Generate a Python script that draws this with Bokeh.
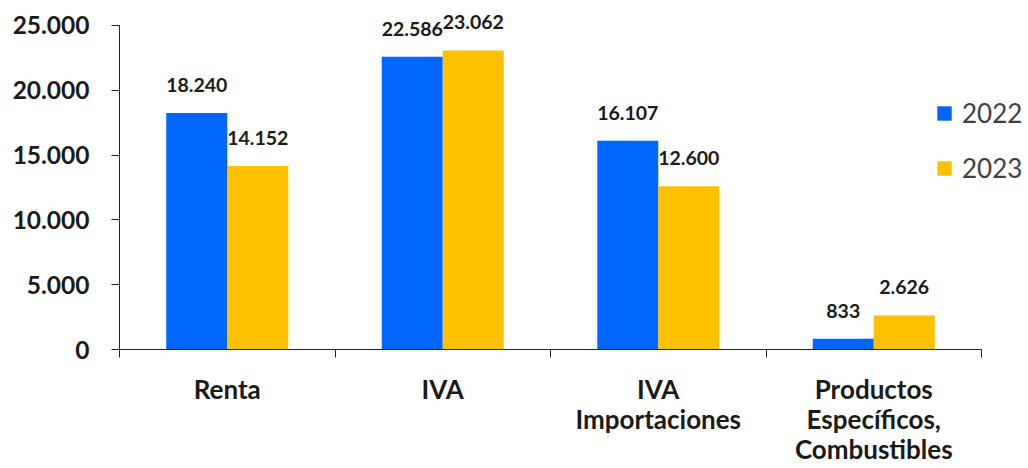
from bokeh.plotting import figure
from bokeh.models import Range1d, FixedTicker, LabelSet, ColumnDataSource, Legend, LegendItem
from bokeh.transform import dodge
from bokeh.embed import file_html
from bokeh.resources import INLINE
from bokeh.core.properties import value

categories = ["Renta", "IVA", "IVA\nImportaciones", "Productos\nEspecíficos,\nCombustibles"]
series_names = ["2022", "2023"]
v2022 = [18240, 22586, 16107, 833]
v2023 = [14152, 23062, 12600, 2626]
lab2022 = ["18.240", "22.586", "16.107", "833"]
lab2023 = ["14.152", "23.062", "12.600", "2.626"]
y_ticks = [0, 5000, 10000, 15000, 20000, 25000]
y_tick_labels = ["0", "5.000", "10.000", "15.000", "20.000", "25.000"]

BLUE = "#0066FF"
GOLD = "#FFC000"
FONT = "Lato"
TXT = "#1a1a1a"
AX = "#222222"

n = len(categories)
pos = [i + 0.5 for i in range(n)]
src = ColumnDataSource(dict(x=pos, v22=v2022, v23=v2023, l22=lab2022, l23=lab2023))

# frame: left 119 .. right 1028 ; top 0 .. bottom 351
y_max = y_ticks[-1]
p = figure(width=1028, height=468,
           x_range=Range1d(0, n * 909 / 862), y_range=Range1d(0, y_max * 351 / 326),
           output_backend="svg", toolbar_location=None,
           min_border_left=119, min_border_right=0, min_border_top=0, min_border_bottom=117)
p.outline_line_color = None
p.grid.visible = False
p.background_fill_color = "white"

bw = 0.283
off = bw / 2
r1 = p.vbar(x=dodge("x", -off, range=p.x_range), top="v22", width=bw, source=src,
            fill_color=BLUE, line_color=None)
r2 = p.vbar(x=dodge("x", off, range=p.x_range), top="v23", width=bw, source=src,
            fill_color=GOLD, line_color=None)

for field, lab, o in (("v22", "l22", -off), ("v23", "l23", off)):
    ls = LabelSet(x=dodge("x", o, range=p.x_range), y=field, text=lab, source=src,
                  y_offset=28, text_align="center", text_baseline="middle",
                  text_font=value(FONT), text_font_style="bold", text_font_size="19.5px",
                  text_color=TXT)
    p.add_layout(ls)

# x axis
xa = p.xaxis[0]
xa.bounds = (0, n)
xa.ticker = FixedTicker(ticks=pos, minor_ticks=list(range(n + 1)))
xa.major_label_overrides = {pos[i]: categories[i] for i in range(n)}
xa.major_tick_out = 0
xa.major_tick_in = 0
xa.minor_tick_out = 8
xa.minor_tick_in = 0
xa.minor_tick_line_color = AX
xa.axis_line_color = AX
xa.major_label_text_font = FONT
xa.major_label_text_font_style = "bold"
xa.major_label_text_font_size = "26px"
xa.major_label_text_color = TXT
xa.major_label_text_line_height = 0.95
xa.major_label_standoff = 15

# y axis
ya = p.yaxis[0]
ya.bounds = (0, y_max)
ya.ticker = FixedTicker(ticks=y_ticks, minor_ticks=[])
ya.major_label_overrides = {y_ticks[i]: y_tick_labels[i] for i in range(len(y_ticks))}
ya.major_tick_out = 8
ya.major_tick_in = 0
ya.major_tick_line_color = AX
ya.axis_line_color = AX
ya.major_label_text_font = FONT
ya.major_label_text_font_style = "bold"
ya.major_label_text_font_size = "24.5px"
ya.major_label_text_color = TXT
ya.major_label_standoff = 22

legend = Legend(items=[LegendItem(label=series_names[0], renderers=[r1]),
                       LegendItem(label=series_names[1], renderers=[r2])],
                location=(816, 165), padding=0, margin=0, spacing=23,
                glyph_width=18, glyph_height=18, label_standoff=9,
                label_text_font=FONT, label_text_font_size="26px",
                label_text_color="#404040", border_line_color=None,
                background_fill_alpha=0)
p.add_layout(legend)

open("out.html", "w").write(file_html(p, INLINE))
